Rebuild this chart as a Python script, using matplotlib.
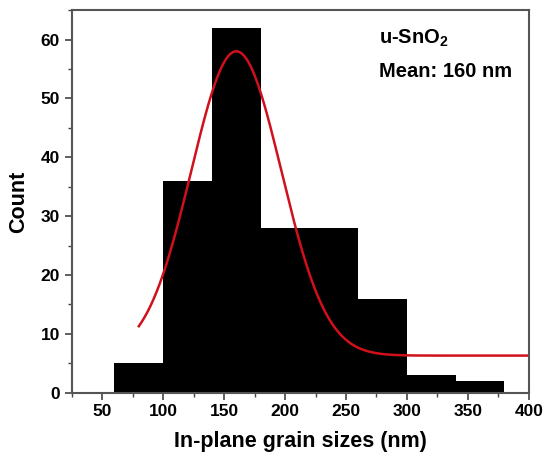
import numpy as np
import matplotlib.pyplot as plt

# Histogram data (bin edges in nm, counts)
bin_edges = [60, 100, 140, 180, 220, 260, 300, 340, 380]
counts = [5, 36, 62, 28, 28, 16, 3, 2]

# Gaussian fit parameters
fit_y0 = 6.3
fit_amp = 51.7
fit_xc = 160
fit_w = 37
fit_range = (80, 400)

plt.rcParams['font.family'] = ['Liberation Sans', 'DejaVu Sans']
plt.rcParams['font.weight'] = 'bold'
plt.rcParams['mathtext.fontset'] = 'custom'
plt.rcParams['mathtext.bf'] = 'Liberation Sans:bold'

fig = plt.figure(figsize=(5.44, 4.59), dpi=100)
ax = fig.add_axes([0.132, 0.1445, 0.840, 0.8335])

ax.stairs(counts, bin_edges, fill=True, color='black')

x_fit = np.linspace(fit_range[0], fit_range[1], 400)
y_fit = fit_y0 + fit_amp * np.exp(-(x_fit - fit_xc) ** 2 / (2 * fit_w ** 2))
ax.plot(x_fit, y_fit, color='#d0101a', lw=1.8)

ax.set_xlim(25, 400)
ax.set_ylim(0, 65)
ax.set_xticks([50, 100, 150, 200, 250, 300, 350, 400])
ax.set_xticks(np.arange(25, 401, 25), minor=True)
ax.set_yticks([0, 10, 20, 30, 40, 50, 60])
ax.set_yticks(np.arange(0, 66, 5), minor=True)
ax.tick_params(which='major', direction='out', length=5, width=1.2, labelsize=12.5, color='#444444')
ax.tick_params(which='minor', direction='out', length=3, width=1.0, color='#444444')
for sp in ax.spines.values():
    sp.set_color('#555555')
    sp.set_linewidth(1.5)

ax.set_xlabel('In-plane grain sizes (nm)', fontsize=15.5, fontweight='bold', labelpad=8)
ax.set_ylabel('Count', fontsize=15.5, fontweight='bold', labelpad=8)

ax.text(0.672, 0.955, 'u-SnO$_\\mathbf{2}$', transform=ax.transAxes, fontsize=14.5,
        fontweight='bold', va='top', ha='left')
ax.text(0.672, 0.865, 'Mean: 160 nm', transform=ax.transAxes, fontsize=14.5,
        fontweight='bold', va='top', ha='left')

fig.savefig('out.png', dpi=100)
